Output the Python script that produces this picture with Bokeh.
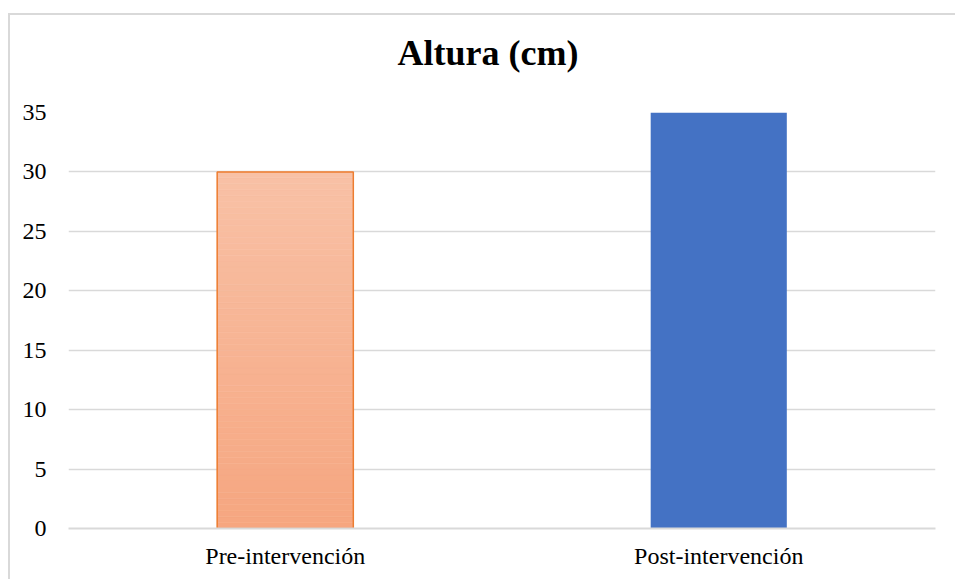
import numpy as np
from bokeh.plotting import figure
from bokeh.models import Range1d, FixedTicker, Title
from bokeh.embed import file_html
from bokeh.resources import INLINE

# ---- data ----
categories = ["Pre-intervención", "Post-intervención"]
values = [30, 35]
y_ticks = [0, 5, 10, 15, 20, 25, 30, 35]
title_text = "Altura (cm)"

# ---- styles ----
BLUE = "#4472C4"
ORANGE_LINE = "#ED7D31"
GRAD_TOP = np.array([0xF8, 0xC1, 0xA6])
GRAD_BOTTOM = np.array([0xF6, 0xA6, 0x80])
GRID = "#D9D9D9"
FONT = "'Liberation Serif', 'Times New Roman', serif"
BAR_W = 0.314

p = figure(
    x_range=categories,
    y_range=Range1d(0, 35),
    width=947, height=566,
    output_backend="svg",
    toolbar_location=None,
    min_border_left=58, min_border_right=22,
    min_border_top=97, min_border_bottom=53,
)
p.margin = (13, 0, 0, 8)
p.styles = {"border-top": "2px solid #D9D9D9", "border-left": "2px solid #D9D9D9"}
p.outline_line_color = None
p.background_fill_color = "white"
p.border_fill_color = "white"

# spacer between title and plot area (added first -> closest to the frame)
spacer = Title(text=" ", text_font_size="1px", standoff=30, text_color="white")
p.add_layout(spacer, "above")

# real title
main_title = Title(text=title_text, text_font=FONT, text_font_size="36px",
                   text_font_style="bold", text_color="#000000",
                   align="left", offset=329, vertical_align="top", standoff=10)
p.add_layout(main_title, "above")

# gradient bar (first) drawn as thin horizontal strips
n = 60
v0 = values[0]
edges = np.linspace(0, v0, n + 1)
fr = (edges[:-1] + edges[1:]) / 2 / v0
cols = []
for f in fr:
    c = GRAD_BOTTOM + (GRAD_TOP - GRAD_BOTTOM) * f
    cols.append("#%02x%02x%02x" % tuple(int(round(x)) for x in c))
p.vbar(x=[categories[0]] * n, bottom=edges[:-1], top=edges[1:], width=BAR_W,
       fill_color=cols, line_color=cols, line_width=0.6)
p.vbar(x=[categories[0]], top=[values[0]], width=BAR_W, fill_color=None,
       line_color=ORANGE_LINE, line_width=1.5)

# solid blue bar
p.vbar(x=[categories[1]], top=[values[1]], width=BAR_W, fill_color=BLUE,
       line_color=None)

# axes
p.yaxis.ticker = FixedTicker(ticks=y_ticks)
p.yaxis.axis_line_color = None
p.yaxis.major_tick_line_color = None
p.yaxis.minor_tick_line_color = None
p.yaxis.major_label_text_font = FONT
p.yaxis.major_label_text_font_size = "24px"
p.yaxis.major_label_text_color = "#000000"
p.yaxis.major_label_standoff = 16

p.xaxis.axis_line_color = GRID
p.xaxis.axis_line_width = 2
p.xaxis.major_tick_line_color = None
p.xaxis.minor_tick_line_color = None
p.xaxis.major_label_text_font = FONT
p.xaxis.major_label_text_font_size = "24px"
p.xaxis.major_label_text_color = "#000000"
p.xaxis.major_label_standoff = 8

p.xgrid.grid_line_color = None
p.ygrid.grid_line_color = GRID
p.ygrid.grid_line_width = 1.5

p.x_range.range_padding = 0

open("out.html", "w").write(file_html(p, INLINE))
